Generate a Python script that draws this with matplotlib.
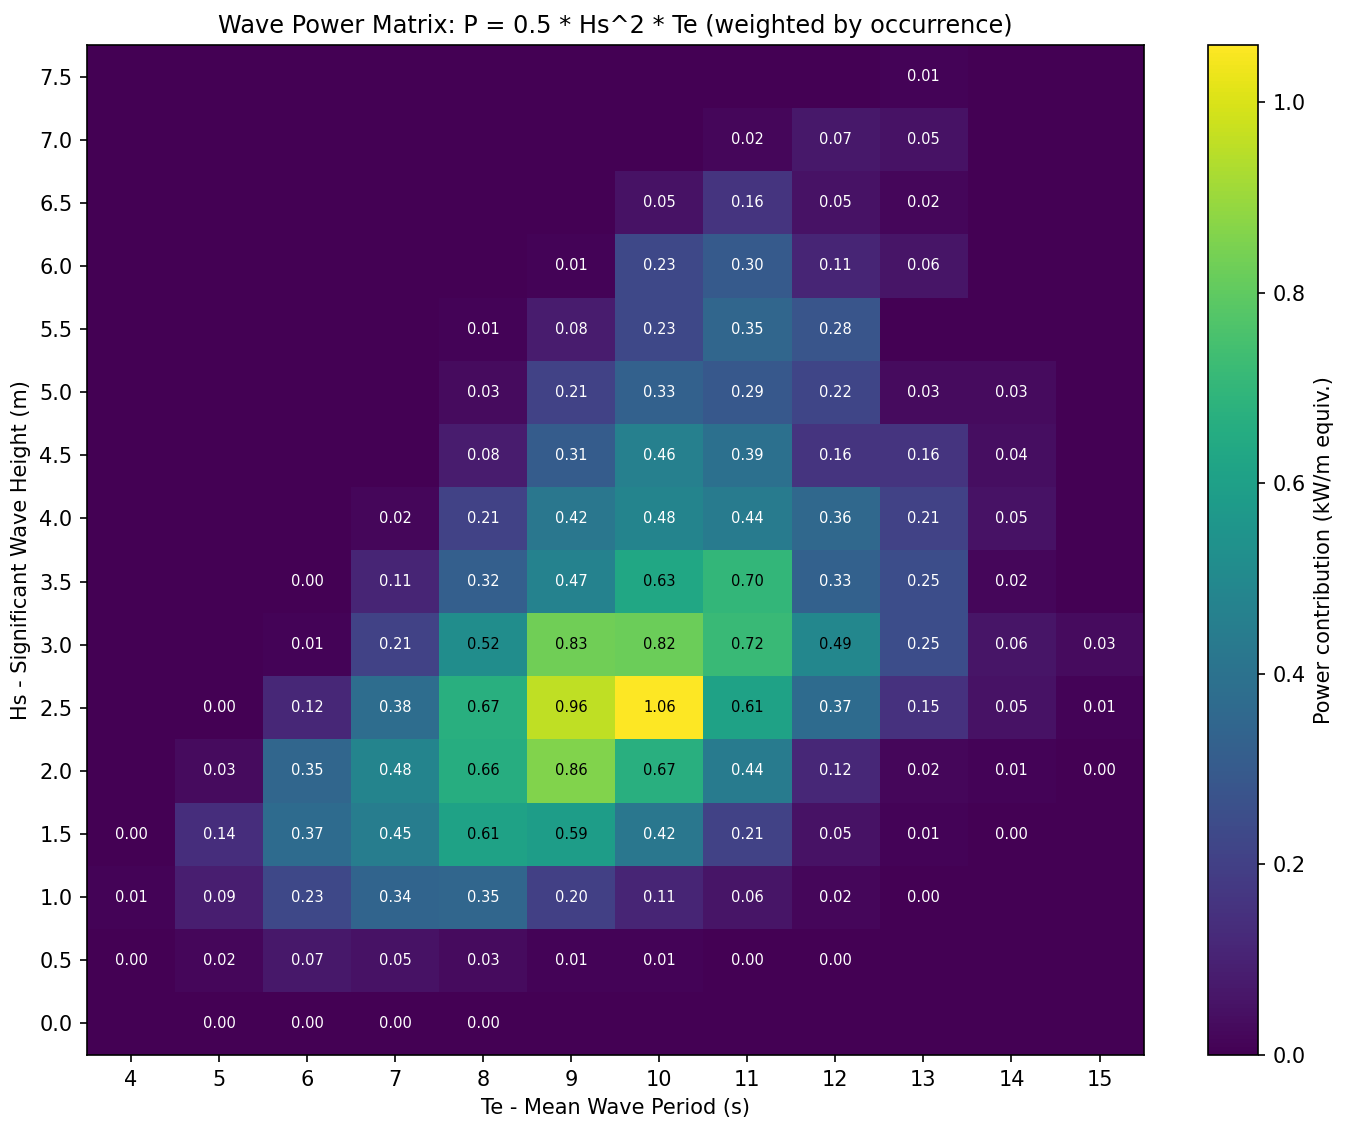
import numpy as np
import matplotlib
matplotlib.use("Agg")
import matplotlib.pyplot as plt

te = [4, 5, 6, 7, 8, 9, 10, 11, 12, 13, 14, 15]
hs = [0.0, 0.5, 1.0, 1.5, 2.0, 2.5, 3.0, 3.5, 4.0, 4.5, 5.0, 5.5, 6.0, 6.5, 7.0, 7.5]
N = None
# rows: Hs 0.0 -> 7.5 ; columns: Te 4 -> 15 ; None = no occurrence
row_00 = [N, 0.00, 0.00, 0.00, 0.00, N, N, N, N, N, N, N]
row_05 = [0.00, 0.02, 0.07, 0.05, 0.03, 0.01, 0.01, 0.00, 0.00, N, N, N]
row_10 = [0.01, 0.09, 0.23, 0.34, 0.35, 0.20, 0.11, 0.06, 0.02, 0.00, N, N]
row_15 = [0.00, 0.14, 0.37, 0.45, 0.61, 0.59, 0.42, 0.21, 0.05, 0.01, 0.00, N]
row_20 = [N, 0.03, 0.35, 0.48, 0.66, 0.86, 0.67, 0.44, 0.12, 0.02, 0.01, 0.00]
row_25 = [N, 0.00, 0.12, 0.38, 0.67, 0.96, 1.06, 0.61, 0.37, 0.15, 0.05, 0.01]
row_30 = [N, N, 0.01, 0.21, 0.52, 0.83, 0.82, 0.72, 0.49, 0.25, 0.06, 0.03]
row_35 = [N, N, 0.00, 0.11, 0.32, 0.47, 0.63, 0.70, 0.33, 0.25, 0.02, N]
row_40 = [N, N, N, 0.02, 0.21, 0.42, 0.48, 0.44, 0.36, 0.21, 0.05, N]
row_45 = [N, N, N, N, 0.08, 0.31, 0.46, 0.39, 0.16, 0.16, 0.04, N]
row_50 = [N, N, N, N, 0.03, 0.21, 0.33, 0.29, 0.22, 0.03, 0.03, N]
row_55 = [N, N, N, N, 0.01, 0.08, 0.23, 0.35, 0.28, N, N, N]
row_60 = [N, N, N, N, N, 0.01, 0.23, 0.30, 0.11, 0.06, N, N]
row_65 = [N, N, N, N, N, N, 0.05, 0.16, 0.05, 0.02, N, N]
row_70 = [N, N, N, N, N, N, N, 0.02, 0.07, 0.05, N, N]
row_75 = [N, N, N, N, N, N, N, N, N, 0.01, N, N]

rows = [row_00, row_05, row_10, row_15, row_20, row_25, row_30, row_35,
        row_40, row_45, row_50, row_55, row_60, row_65, row_70, row_75]

vals = np.array([[0.0 if v is None else v for v in r] for r in rows])

fig = plt.figure(figsize=(1346 / 150, 1131 / 150), dpi=150)
ax = fig.add_axes([0.0646, 0.0672, 0.785, 0.893])
cax = fig.add_axes([0.8975, 0.0672, 0.037, 0.893])

im = ax.imshow(vals, origin="lower", cmap="viridis", aspect="auto",
               vmin=0, vmax=vals.max())
ax.set_xticks(range(len(te)))
ax.set_xticklabels([str(t) for t in te])
ax.set_yticks(range(len(hs)))
ax.set_yticklabels([f"{h:.1f}" for h in hs])

for i, r in enumerate(rows):
    for j, v in enumerate(r):
        if v is None:
            continue
        color = "black" if v > 0.485 else "white"
        ax.text(j, i, f"{v:.2f}", ha="center", va="center", fontsize=7, color=color)

ax.set_xlabel("Te - Mean Wave Period (s)")
ax.set_ylabel("Hs - Significant Wave Height (m)")
ax.set_title("Wave Power Matrix: P = 0.5 * Hs^2 * Te (weighted by occurrence)", fontsize=11.5)

cb = fig.colorbar(im, cax=cax)
cb.set_label("Power contribution (kW/m equiv.)")

fig.savefig("out.png", dpi=150)
